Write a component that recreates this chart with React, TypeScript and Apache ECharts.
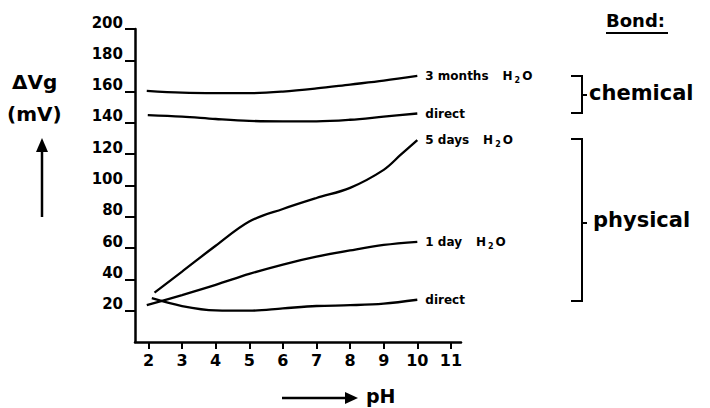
import React, { useEffect, useRef } from "react";
import * as echarts from "echarts";

const xTicks = [2, 3, 4, 5, 6, 7, 8, 9, 10, 11];
const yTicks = [20, 40, 60, 80, 100, 120, 140, 160, 180, 200];

const months3X = [1.95, 3, 4, 5, 6, 7, 8, 9, 10];
const months3Y = [160.5, 159.3, 159, 159, 160, 162, 164.5, 167, 170];

const directChemX = [1.98, 3, 4, 5, 6, 7, 8, 9, 10];
const directChemY = [145, 144, 142.5, 141.3, 141, 141, 142, 144, 146];

const days5X = [2.18, 3, 4, 5, 6, 7, 8, 9, 9.5, 10];
const days5Y = [31.5, 45, 61.5, 77, 85, 92, 98.5, 110, 119.5, 129];

const day1X = [1.95, 3, 4, 5, 6, 7, 8, 9, 10];
const day1Y = [23.5, 30, 36.5, 43.5, 49.5, 54.5, 58.5, 62, 64];

const directPhysX = [2.1, 3, 4, 5, 6, 7, 8, 9, 10];
const directPhysY = [28, 23, 20.2, 20, 21.5, 23, 23.5, 24.5, 27];

const FONT = "DejaVu Sans";

const zip = (xs: number[], ys: number[]) => xs.map((x, i) => [x, ys[i]]);

const labelRich = {
  t: { fontSize: 12, fontWeight: "bold", color: "#000", fontFamily: FONT, lineHeight: 16 },
  h: { fontSize: 12, fontWeight: "bold", color: "#000", fontFamily: FONT, lineHeight: 16, padding: [0, 0, 0, 14] },
  s: { fontSize: 8, fontWeight: "bold", color: "#000", fontFamily: FONT, lineHeight: 8, padding: [9, 2, 0, 2] },
};

const mkSeries = (name: string, xs: number[], ys: number[], label: string) => ({
  name,
  type: "line",
  data: zip(xs, ys),
  smooth: 0.35,
  symbol: "none",
  lineStyle: { color: "#000", width: 2.3 },
  endLabel: {
    show: true,
    distance: 8,
    formatter: () => label,
    rich: labelRich,
    color: "#000",
  },
});

export default function App() {
  const ref = useRef<HTMLDivElement>(null);
  useEffect(() => {
    if (!ref.current) return;
    const chart = echarts.init(ref.current, null, { renderer: "svg" });
    const option = {
      animation: false,
      backgroundColor: "#fff",
      grid: { left: 135, top: 29, width: 326, height: 313 },
      xAxis: {
        type: "value",
        min: 1.6,
        max: 11.3,
        axisLine: { lineStyle: { color: "#000", width: 2.5 } },
        axisTick: { customValues: xTicks, length: 7, lineStyle: { color: "#000", width: 2 } },
        axisLabel: {
          customValues: xTicks,
          color: "#000",
          fontSize: 16,
          fontWeight: "bold",
          fontFamily: FONT,
          margin: 10,
        },
        splitLine: { show: false },
      },
      yAxis: {
        type: "value",
        min: 0,
        max: 200,
        axisLine: { lineStyle: { color: "#000", width: 2.5 } },
        axisTick: { customValues: yTicks, length: 10, lineStyle: { color: "#000", width: 2 } },
        axisLabel: {
          customValues: yTicks,
          color: "#000",
          fontSize: 15,
          fontWeight: "bold",
          fontFamily: FONT,
          margin: 12,
          verticalAlign: "bottom",
          lineHeight: 13,
        },
        splitLine: { show: false },
      },
      series: [
        mkSeries("3 months H2O", months3X, months3Y, "{t|3 months}{h|H}{s|2}{t|O}"),
        mkSeries("direct chemical", directChemX, directChemY, "{t|direct}"),
        mkSeries("5 days H2O", days5X, days5Y, "{t|5 days}{h|H}{s|2}{t|O}"),
        mkSeries("1 day H2O", day1X, day1Y, "{t|1 day}{h|H}{s|2}{t|O}"),
        mkSeries("direct physical", directPhysX, directPhysY, "{t|direct}"),
      ],
      graphic: [
        { type: "text", left: 12, top: 72, style: { text: "ΔVg", font: `bold 20px "${FONT}"`, fill: "#000" } },
        { type: "text", left: 7, top: 104, style: { text: "(mV)", font: `bold 20px "${FONT}"`, fill: "#000" } },
        { type: "line", shape: { x1: 42, y1: 217, x2: 42, y2: 148 }, style: { stroke: "#000", lineWidth: 2.5 } },
        { type: "polygon", shape: { points: [[42, 138], [36, 152], [48, 152]] }, style: { fill: "#000" } },
        { type: "line", shape: { x1: 282, y1: 398, x2: 348, y2: 398 }, style: { stroke: "#000", lineWidth: 2.5 } },
        { type: "polygon", shape: { points: [[358, 398], [345, 392], [345, 404]] }, style: { fill: "#000" } },
        { type: "text", left: 366, top: 386, style: { text: "pH", font: `bold 19px "${FONT}"`, fill: "#000" } },
        { type: "text", left: 606, top: 11, style: { text: "Bond:", font: `bold 18px "${FONT}"`, fill: "#000" } },
        { type: "line", shape: { x1: 606, y1: 33, x2: 668, y2: 33 }, style: { stroke: "#000", lineWidth: 2 } },
        { type: "polyline", shape: { points: [[571, 76], [582, 76], [582, 113], [571, 113]] }, style: { stroke: "#000", lineWidth: 2, fill: null } },
        { type: "line", shape: { x1: 582, y1: 95, x2: 587, y2: 95 }, style: { stroke: "#000", lineWidth: 2 } },
        { type: "text", left: 589, top: 82, style: { text: "chemical", font: `bold 21px "${FONT}"`, fill: "#000" } },
        { type: "polyline", shape: { points: [[571, 139], [582, 139], [582, 301], [571, 301]] }, style: { stroke: "#000", lineWidth: 2, fill: null } },
        { type: "line", shape: { x1: 582, y1: 223, x2: 587, y2: 223 }, style: { stroke: "#000", lineWidth: 2 } },
        { type: "text", left: 593, top: 209, style: { text: "physical", font: `bold 21px "${FONT}"`, fill: "#000" } },
      ],
    };
    chart.setOption(option as any);
    return () => chart.dispose();
  }, []);
  return <div ref={ref} style={{ position: "fixed", left: 0, top: 0, width: 710, height: 408 }} />;
}
